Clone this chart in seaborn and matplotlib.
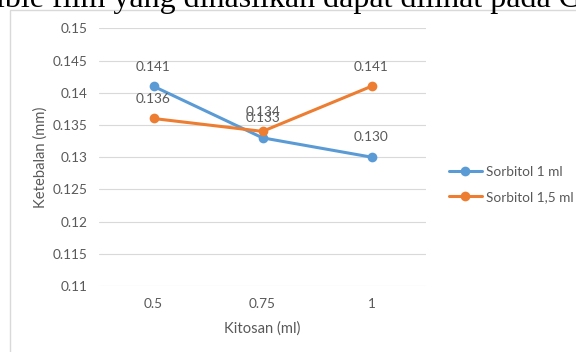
import matplotlib
matplotlib.use("Agg")
import matplotlib.pyplot as plt
import matplotlib.patches as mpatches
import seaborn as sns
import pandas as pd

# ---- data ----
kitosan = ["0.5", "0.75", "1"]
sorbitol_1 = [0.141, 0.133, 0.130]
sorbitol_15 = [0.136, 0.134, 0.141]
series_names = ["Sorbitol 1 ml", "Sorbitol 1,5 ml"]
y_ticks = [0.11, 0.115, 0.12, 0.125, 0.13, 0.135, 0.14, 0.145, 0.15]
x_title = "Kitosan (ml)"
y_title = "Ketebalan (mm)"
caption = "ible film yang dihasilkan dapat dilihat pada G"

colors = ["#5B9BD5", "#ED7D31"]
txt_col = "#595959"
grid_col = "#D9D9D9"
fs = 9.8
fs_title = 10.6

df = pd.DataFrame({
    "Kitosan": kitosan * 2,
    "Ketebalan": sorbitol_1 + sorbitol_15,
    "Seri": [series_names[0]] * 3 + [series_names[1]] * 3,
})

sns.set_theme(style="white")
plt.rcParams["font.family"] = ["Lato", "DejaVu Sans"]

fig = plt.figure(figsize=(5.76, 3.52), dpi=100)
W, H = 576, 352
ax = fig.add_axes([99 / W, 1 - 286 / H, (426 - 99) / W, (286 - 28.3) / H])

sns.lineplot(data=df, x="Kitosan", y="Ketebalan", hue="Seri", palette=colors,
             marker="o", markersize=7, markeredgewidth=0, linewidth=2.2,
             sort=False, ax=ax)

ax.set_xlim(-0.5, 2.5)
ax.set_ylim(0.11, 0.15)
ax.set_yticks(y_ticks)
ax.set_yticklabels([f"{v:g}" for v in y_ticks])
ax.grid(axis="y", color=grid_col, linewidth=0.8)
ax.grid(axis="x", visible=False)
ax.set_axisbelow(True)
for s in ax.spines.values():
    s.set_visible(False)
ax.tick_params(axis="both", length=0, labelsize=fs, labelcolor=txt_col)
ax.tick_params(axis="y", pad=8.5)
ax.tick_params(axis="x", pad=8.5)

ax.set_xlabel(x_title, fontsize=fs_title, color=txt_col)
ax.set_ylabel(y_title, fontsize=fs_title, color=txt_col)
ax.xaxis.set_label_coords(0.5, (286 - 329) / (286 - 28.3))
ax.xaxis.label.set_va("center")
ax.yaxis.set_label_coords((41 - 99) / (426 - 99), 0.5)
ax.yaxis.label.set_va("center")

# data labels
for vals in (sorbitol_1, sorbitol_15):
    for i, v in enumerate(vals):
        ax.annotate(f"{v:.3f}", (i, v), xytext=(0, 14.2), textcoords="offset points",
                    ha="center", va="center", fontsize=fs, color=txt_col)

handles, labels = ax.get_legend_handles_labels()
ax.get_legend().remove()
fig.legend(handles, labels, loc="center left", bbox_to_anchor=(449 / W, 1 - 184.5 / H),
           frameon=False, fontsize=fs, labelcolor=txt_col, handlelength=2.4,
           handletextpad=0.3, labelspacing=0.94, borderpad=0, borderaxespad=0)

# chart frame
fig.patches.append(mpatches.Rectangle((9.5 / W, -0.1), 1.2, 1.1 - 10.5 / H,
                                      transform=fig.transFigure, fill=False,
                                      edgecolor=grid_col, linewidth=1.0))

# cropped document text above the chart
fig.text(-4 / W, 1 - 7 / H, caption, family=["Liberation Serif", "DejaVu Serif"],
         fontsize=23, color="black", ha="left", va="baseline")

fig.savefig("out.png", dpi=100)
